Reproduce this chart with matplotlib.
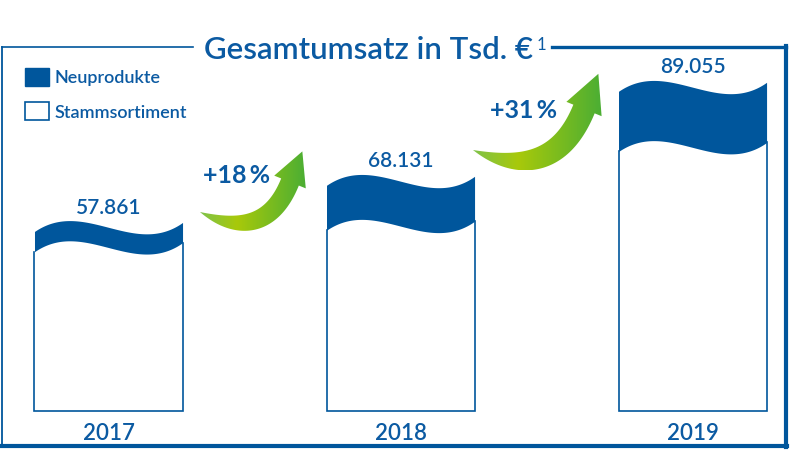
import matplotlib
matplotlib.use("Agg")
import matplotlib.pyplot as plt
import numpy as np
from matplotlib.patches import Rectangle, Polygon
from matplotlib.colors import LinearSegmentedColormap

plt.rcParams['font.family'] = ['Lato', 'DejaVu Sans']

# data (Tsd. EUR)
years = ['2017', '2018', '2019']
gesamt = [57861, 68131, 89055]
neuprodukte = [4500, 10000, 13400]   # estimated from band thickness
value_labels = ['57.861', '68.131', '89.055']
growth = ['+18\u2009%', '+31\u2009%']

BLUE = '#00569c'
TEXT = '#0b5aa2'
BASE = 17000
W = 0.507
WT = 'semibold'

fig = plt.figure(figsize=(8, 4.57), dpi=100)
ax = fig.add_axes([0, 0, 1, 1])
ax.set_xlim(-0.3716, 2.368)
ax.set_ylim(6770, 108480)
ax.axis('off')
upx = (108480 - 6770) / 457.0   # data units per pixel


def wave(t):
    # cubic bezier wave, in pixels
    y0, y1, y2, y3 = -4, 30, -30, 5
    return ((1 - t) ** 3 * y0 + 3 * (1 - t) ** 2 * t * y1
            + 3 * (1 - t) * t ** 2 * y2 + t ** 3 * y3)


t = np.linspace(0, 1, 200)
for i, (tot, neu) in enumerate(zip(gesamt, neuprodukte)):
    xs = i - W / 2 + t * W
    top = tot + wave(t) * upx
    mid = tot - neu + wave(t) * upx
    ax.fill_between(xs, BASE, mid, color='white', lw=0)
    ax.fill_between(xs, mid, top, color=BLUE, lw=0)
    ax.plot([xs[0], xs[0], xs[-1], xs[-1]], [mid[0], BASE, BASE, mid[-1]],
            color=BLUE, lw=1.2, solid_joinstyle='miter')
    ax.annotate(value_labels[i], (i, tot), xytext=(0, 10), textcoords='offset points',
                ha='center', va='baseline', fontsize=15, fontweight=WT, color=TEXT)
    ax.annotate(years[i], (i, BASE), xytext=(0, -21), textcoords='offset points',
                ha='center', va='baseline', fontsize=16, fontweight=WT, color=TEXT)

# decoration layer in pixel coordinates
deco = fig.add_axes([0, 0, 1, 1], facecolor='none')
deco.axis('off')
deco.set_xlim(0, 800)
deco.set_ylim(457, 0)

# frame
deco.plot([2, 193], [46.5, 46.5], color=BLUE, lw=1.2)
deco.plot([2, 2], [46.5, 446], color=BLUE, lw=1.3)
deco.plot([552, 786], [46.5, 46.5], color=BLUE, lw=2.4)
deco.plot([786, 786], [45.5, 447], color=BLUE, lw=3.0)
deco.plot([2, 787], [446, 446], color=BLUE, lw=3.0)

# title
title = deco.text(204, 59, 'Gesamtumsatz in Tsd. €', fontsize=22.5, fontweight=WT,
                  color=TEXT, ha='left', va='baseline')
fig.canvas.draw()
bb = title.get_window_extent().transformed(deco.transData.inverted())
deco.text(max(bb.x0, bb.x1) + 4, 50, '1', fontsize=12, color=TEXT, ha='left', va='baseline')

# legend
deco.add_patch(Rectangle((25, 68), 24, 18, facecolor=BLUE, edgecolor=BLUE, lw=1))
deco.add_patch(Rectangle((25, 102), 24, 18, facecolor='white', edgecolor=BLUE, lw=1.2))
deco.text(55, 83, 'Neuprodukte', fontsize=13, fontweight=WT, color=TEXT, va='baseline')
deco.text(55, 118, 'Stammsortiment', fontsize=13, fontweight=WT, color=TEXT, va='baseline')

# growth arrows
cmap = LinearSegmentedColormap.from_list(
    'grn', [(0, '#7fc24a'), (0.35, '#a8c90a'), (1, '#4bae34')])


def arrow_poly(p0, p1, p2, width, head_w, head_l):
    p0, p1, p2 = map(np.asarray, (p0, p1, p2))
    s = np.linspace(0, 1, 80)[:, None]
    c = (1 - s) ** 2 * p0 + 2 * (1 - s) * s * p1 + s ** 2 * p2
    d = 2 * (1 - s) * (p1 - p0) + 2 * s * (p2 - p1)
    d = d / np.linalg.norm(d, axis=1)[:, None]
    n = np.column_stack([d[:, 1], -d[:, 0]])
    w = width * (1 - (1 - s) ** 4) / 2
    left = c + n * w
    right = c - n * w
    dn, nn = d[-1], n[-1]
    tip = p2 + dn * head_l
    pts = np.vstack([left, [p2 + nn * head_w], [tip], [p2 - nn * head_w], right[::-1]])
    return pts


arrows = [((200, 212), (265, 244), (290, 182), 19, 17, 33),
          ((473, 150), (553, 185), (584, 109), 23, 19, 38)]
for a in arrows:
    pts = arrow_poly(*a)
    poly = Polygon(pts, closed=True, facecolor='none', edgecolor='none')
    deco.add_patch(poly)
    x0, x1 = pts[:, 0].min(), pts[:, 0].max()
    y0, y1 = pts[:, 1].min(), pts[:, 1].max()
    im = deco.imshow(np.linspace(0, 1, 256).reshape(1, -1), cmap=cmap, aspect='auto',
                     extent=[x0, x1, y1, y0], interpolation='bilinear')
    im.set_clip_path(poly)

deco.text(203, 183, growth[0], fontsize=18, fontweight='bold', color=TEXT,
          ha='left', va='baseline')
deco.text(490, 118, growth[1], fontsize=18, fontweight='bold', color=TEXT,
          ha='left', va='baseline')

deco.set_xlim(0, 800)
deco.set_ylim(457, 0)

fig.savefig('out.png', dpi=100, facecolor='white')
